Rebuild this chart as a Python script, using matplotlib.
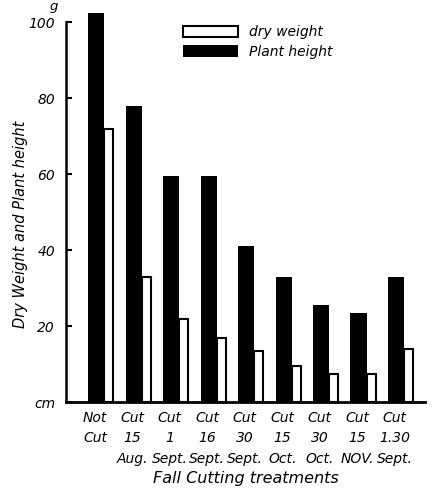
import numpy as np
import matplotlib
matplotlib.use('Agg')
import matplotlib.pyplot as plt

# treatments and values
treatments = ['Not\nCut', 'Cut\n15\nAug.', 'Cut\n1\nSept.', 'Cut\n16\nSept.', 'Cut\n30\nSept.',
              'Cut\n15\nOct.', 'Cut\n30\nOct.', 'Cut\n15\nNOV.', 'Cut\n1.30\nSept.']
plant_height = [102.5, 78, 59.5, 59.5, 41, 33, 25.5, 23.5, 33]
dry_weight = [72, 33, 22, 17, 13.5, 9.5, 7.5, 7.5, 14]
yticks = [0, 20, 40, 60, 80, 100]
ytick_labels = ['cm', '20', '40', '60', '80', '100']

plt.rcParams['font.family'] = 'DejaVu Sans'
plt.rcParams['font.style'] = 'italic'

fig = plt.figure(figsize=(4.35, 4.99), dpi=100)
ax = fig.add_axes([0.152, 0.194, 0.825, 0.792])

x = np.arange(len(treatments))
ax.bar(x, plant_height, width=0.43, align='edge', color='black', label='Plant height')
ax.bar(x + 0.43, dry_weight, width=0.24, align='edge', color='white',
       edgecolor='black', linewidth=1.5, label='dry weight')

ax.set_xlim(-0.59, 8.99)
ax.set_ylim(0, 104)

ax.spines['top'].set_visible(False)
ax.spines['right'].set_visible(False)
ax.spines['left'].set_bounds(0, 100)
ax.spines['left'].set_linewidth(1.8)
ax.spines['bottom'].set_linewidth(2)

ax.set_yticks(yticks)
ax.set_yticklabels(ytick_labels, fontsize=10)
ax.tick_params(axis='y', direction='in', length=4, width=1.5, pad=8)
ax.set_xticks(x + 0.18)
ax.set_xticklabels(treatments, fontsize=10, linespacing=1.6)
ax.tick_params(axis='x', length=0, pad=6)

ax.text(-0.035, 103.2, 'g', transform=ax.get_yaxis_transform(), fontsize=9.5,
        ha='center', va='baseline')

ax.set_ylabel('Dry Weight and Plant height', fontsize=10.5)
ax.yaxis.set_label_coords(-0.105, 0.45)
ax.set_xlabel('Fall Cutting treatments', fontsize=11.5, labelpad=4)

handles, labels = ax.get_legend_handles_labels()
ax.legend(handles[::-1], labels[::-1], loc='upper left', bbox_to_anchor=(0.29, 0.985),
          frameon=False, handlelength=4, handleheight=0.9, fontsize=10, labelspacing=0.4)

fig.savefig('out.png', dpi=100)
